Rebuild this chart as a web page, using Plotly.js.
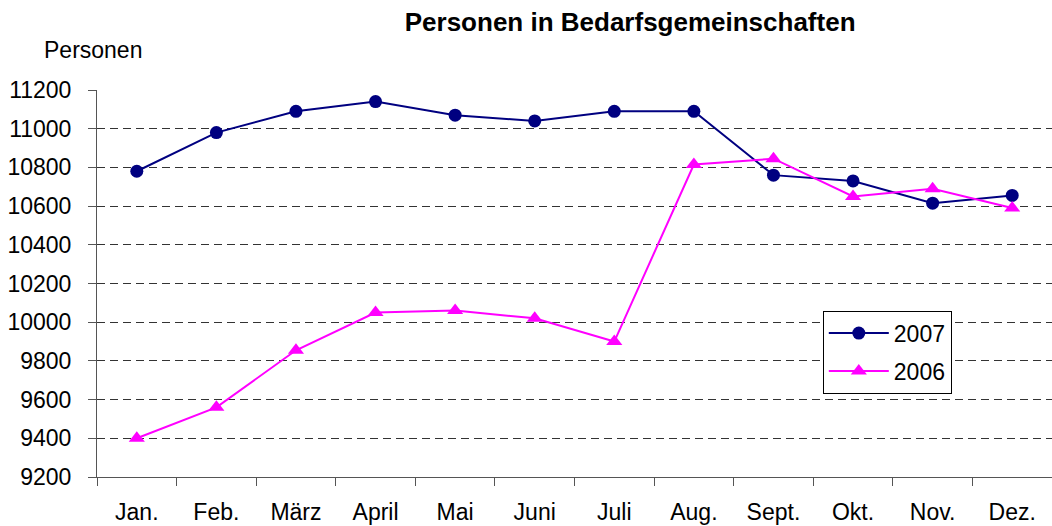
<!DOCTYPE html>
<html>
<head>
<meta charset="utf-8">
<script src="https://cdn.plot.ly/plotly-3.0.1.min.js"></script>
<style>html,body{margin:0;padding:0;background:#fff;}#chart{width:1052px;height:526px;}</style>
</head>
<body>
<div id="chart"></div>
<script>
const months = ["Jan.", "Feb.", "März", "April", "Mai", "Juni", "Juli", "Aug.", "Sept.", "Okt.", "Nov.", "Dez."];
const values2007 = [10780, 10980, 11090, 11140, 11070, 11040, 11090, 11090, 10760, 10730, 10615, 10655];
const values2006 = [9400, 9560, 9855, 10050, 10060, 10020, 9900, 10815, 10845, 10650, 10690, 10590];
const yTicks = [9200, 9400, 9600, 9800, 10000, 10200, 10400, 10600, 10800, 11000, 11200];

const FONT = "Liberation Sans, Arial, sans-serif";

const traces = [
  {
    x: months, y: values2007, name: "2007", type: "scatter", mode: "lines+markers",
    legendgroup: "a",
    line: {color: "#000080", width: 2},
    marker: {symbol: "circle", size: 13, color: "#000080"}
  },
  {
    x: months, y: values2006, name: "2006", type: "scatter", mode: "lines+markers",
    legendgroup: "b",
    line: {color: "#FF00FF", width: 2},
    marker: {symbol: "triangle-up", size: 14, color: "#FF00FF"}
  }
];

const layout = {
  width: 1052, height: 526,
  margin: {l: 97, r: 0, t: 90, b: 49},
  paper_bgcolor: "#fff", plot_bgcolor: "#fff",
  font: {family: FONT, size: 23, color: "#000"},
  title: {
    text: "<b>Personen in Bedarfsgemeinschaften</b>",
    font: {family: FONT, size: 26, color: "#000"},
    x: 0.599, xref: "container", xanchor: "center",
    y: 0.958, yref: "container", yanchor: "middle"
  },
  xaxis: {
    type: "category",
    categoryorder: "array", categoryarray: months,
    range: [-0.5, 11.5],
    showgrid: false,
    showline: true, linecolor: "#555", linewidth: 1,
    ticks: "outside", ticklen: 8, tickcolor: "#555", tickwidth: 1,
    tickson: "boundaries",
    ticklabelstandoff: 14,
    tickfont: {family: FONT, size: 23, color: "#000"},
    fixedrange: true
  },
  yaxis: {
    range: [9200, 11200],
    tickvals: yTicks,
    ticktext: yTicks.map(String),
    showgrid: true, gridcolor: "#333", gridwidth: 1, griddash: "8px,5px",
    showline: true, linecolor: "#555", linewidth: 1,
    ticks: "outside", ticklen: 8, tickcolor: "#555", tickwidth: 1,
    ticklabelstandoff: 12,
    zeroline: false,
    tickfont: {family: FONT, size: 23, color: "#000"},
    fixedrange: true
  },
  legend: {
    x: 0.76, xanchor: "left", xref: "paper",
    y: 0.43, yanchor: "top", yref: "paper",
    bgcolor: "#fff", bordercolor: "#000", borderwidth: 1,
    font: {family: FONT, size: 23, color: "#000"},
    traceorder: "grouped", tracegroupgap: 5,
    itemwidth: 60
  },
  showlegend: true,
  annotations: [{
    text: "Personen", xref: "paper", yref: "paper",
    x: -0.0576, xanchor: "left", y: 1.103, yanchor: "middle",
    showarrow: false, font: {family: FONT, size: 23, color: "#000"}
  }]
};

Plotly.newPlot("chart", traces, layout, {displayModeBar: false, staticPlot: true});
</script>
</body>
</html>
